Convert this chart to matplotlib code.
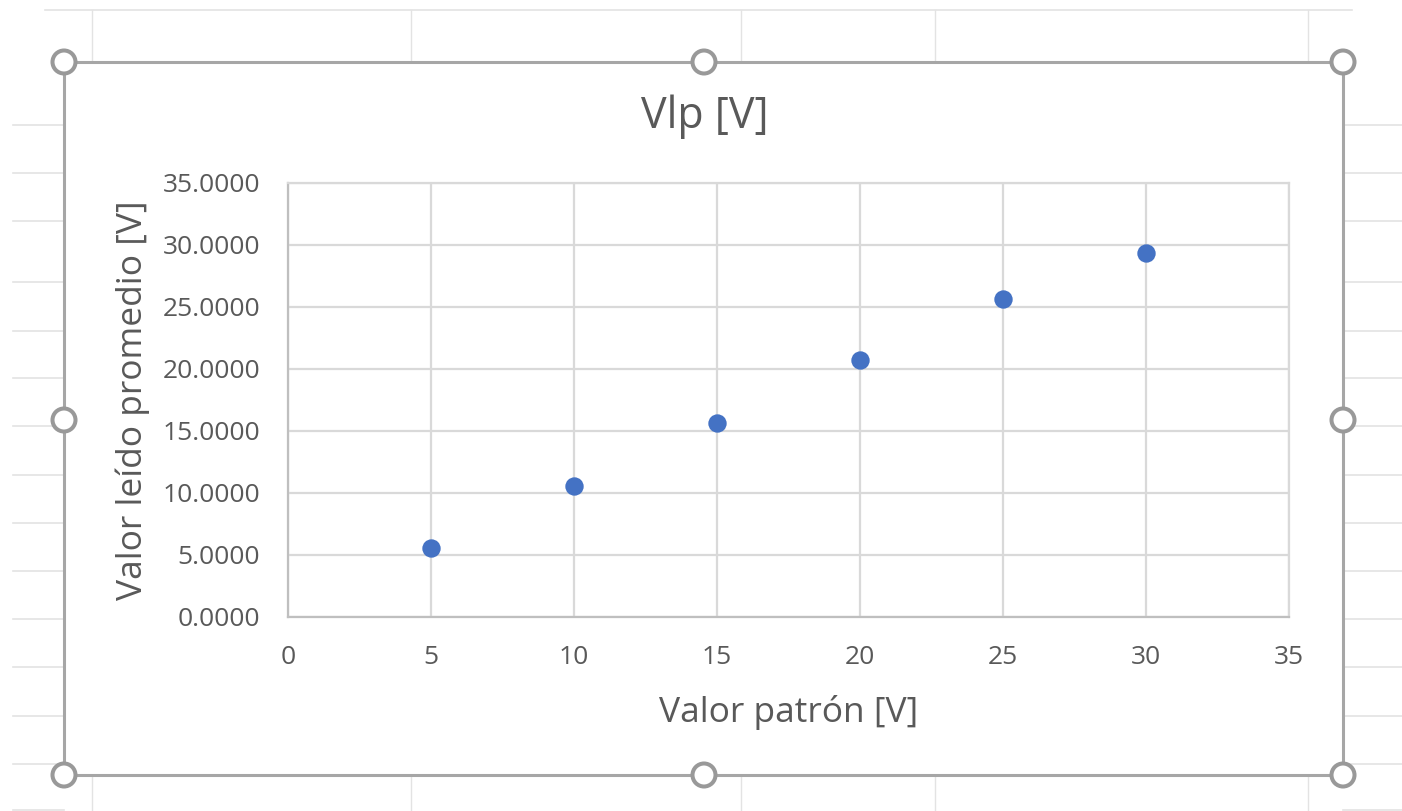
import matplotlib.pyplot as plt
from matplotlib.patches import Rectangle, Circle

plt.rcParams['font.family'] = ['Open Sans', 'DejaVu Sans']

# data
patron = [5, 10, 15, 20, 25, 30]  # Valor patrón [V]
leido = [5.60, 10.60, 15.66, 20.73, 25.65, 29.35]  # Valor leído promedio [V]
x_ticks = [0, 5, 10, 15, 20, 25, 30, 35]
y_ticks = [0, 5, 10, 15, 20, 25, 30, 35]

text_col = '#595959'
grid_col = '#d9d9d9'
sheet_col = '#e3e3e3'

fig = plt.figure(figsize=(14.02, 8.11), dpi=100)

# spreadsheet behind the chart, in pixel units
bg = fig.add_axes([0, 0, 1, 1], zorder=0)
bg.set_xlim(0, 1402)
bg.set_ylim(811, 0)
bg.axis('off')

rows = [125, 173, 221, 282, 331, 378, 426, 475, 523, 571, 619, 667, 716, 764, 810]
cols = [92, 411, 741, 935, 1308]
bg.plot([45, 1352], [10, 10], color=sheet_col, lw=1.2)
for r in rows:
    bg.plot([13, 64], [r, r], color=sheet_col, lw=1.2)
    bg.plot([1343, 1402], [r, r], color=sheet_col, lw=1.2)
for c in cols:
    bg.plot([c, c], [10, 62], color=sheet_col, lw=1.0)
    bg.plot([c, c], [775, 811], color=sheet_col, lw=1.0)

# chart frame with selection handles
bg.add_patch(Rectangle((64, 62), 1279, 713, facecolor='white',
                       edgecolor='#a6a6a6', lw=2.2, zorder=2))
for hx, hy in [(64, 62), (704, 62), (1343, 62), (64, 420), (1343, 420),
               (64, 775), (704, 775), (1343, 775)]:
    bg.add_patch(Circle((hx, hy), 11.5, facecolor='white',
                        edgecolor='#999999', lw=2.9, zorder=3))

# title
fig.text(705 / 1402, 1 - 117 / 811, 'Vlp [V]', ha='center', va='center',
         fontsize=31, color=text_col)

ax = fig.add_axes([288 / 1402, 1 - 617 / 811, 1001 / 1402, 434 / 811], zorder=2)
ax.scatter(patron, leido, s=175, color='#4472C4', zorder=3, linewidths=0)

ax.set_xlim(0, 35)
ax.set_ylim(0, 35)
ax.set_xticks(x_ticks)
ax.set_yticks(y_ticks)
ax.set_yticklabels([f'{v:.4f}' for v in y_ticks])
ax.tick_params(length=0, labelsize=19, labelcolor=text_col, pad=20)
ax.grid(True, color=grid_col, lw=1.6)
ax.set_axisbelow(True)

for side in ['top', 'right']:
    ax.spines[side].set_color(grid_col)
    ax.spines[side].set_linewidth(1.6)
for side in ['left', 'bottom']:
    ax.spines[side].set_color('#bfbfbf')
    ax.spines[side].set_linewidth(1.6)

ax.set_xlabel('Valor patrón [V]', fontsize=25.5, color=text_col, va='center')
ax.set_ylabel('Valor leído promedio [V]', fontsize=25.5, color=text_col, va='center')
ax.xaxis.set_label_coords(0.5, (617 - 712) / 434)
ax.yaxis.set_label_coords((133 - 288) / 1001, 0.5)

fig.savefig('out.png', dpi=100)
